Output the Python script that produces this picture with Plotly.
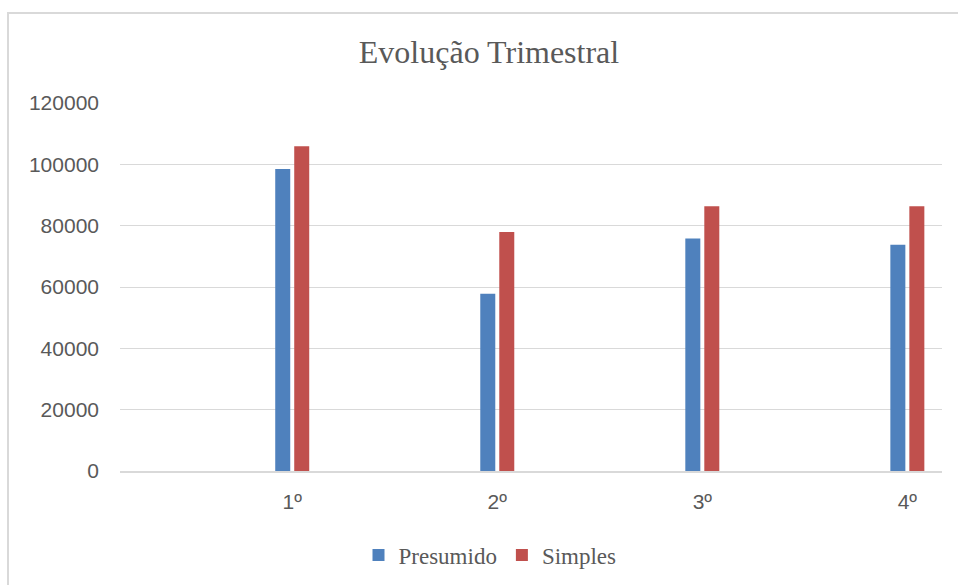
import plotly.graph_objects as go

categories = ["1º", "2º", "3º", "4º"]
presumido = [98500, 57800, 75800, 73800]
simples = [105900, 77900, 86300, 86300]
y_ticks = [0, 20000, 40000, 60000, 80000, 100000, 120000]

W, H = 958, 585
L, R, T, B = 120, 16, 103, 114
pw, ph = W - L - R, H - T - B

def px_to_paper_x(px):
    return (px - L) / pw

def px_to_paper_y(py):
    return (H - B - py) / ph

fig = go.Figure()
fig.add_trace(go.Bar(name="Presumido", x=categories, y=presumido,
                     marker=dict(color="#4F81BD", line=dict(width=0))))
fig.add_trace(go.Bar(name="Simples", x=categories, y=simples,
                     marker=dict(color="#C0504D", line=dict(width=0))))

fig.update_layout(
    width=W, height=H,
    margin=dict(l=L, r=R, t=T, b=B, pad=0),
    paper_bgcolor="white", plot_bgcolor="white",
    barmode="group", bargap=0.8147, bargroupgap=0.21,
    title=dict(text="Evolução Trimestral", x=489 / W, xref="container", xanchor="center",
               y=1 - 52 / H, yref="container", yanchor="middle",
               font=dict(family="Liberation Serif", size=32, color="#595959")),
    legend=dict(orientation="h", x=490 / W, xref="container", xanchor="center",
                y=1 - 555 / H, yref="container", yanchor="middle",
                font=dict(family="Liberation Serif", size=23, color="#595959"),
                bgcolor="rgba(0,0,0,0)"),
    showlegend=True,
    xaxis=dict(type="category", range=[-0.840, 3.169], showgrid=False, zeroline=False,
               showline=True, linecolor="#D9D9D9", linewidth=1.5, ticks="",
               ticklabelstandoff=11,
               tickfont=dict(family="Liberation Sans", size=21, color="#595959")),
    yaxis=dict(range=[0, 120000], tickvals=y_ticks, ticktext=[str(v) for v in y_ticks],
               showgrid=True, gridcolor="#D9D9D9", gridwidth=1.2, zeroline=False,
               showline=False, ticks="", ticklabelstandoff=20,
               tickfont=dict(family="Liberation Sans", size=21, color="#595959")),
    shapes=[dict(type="rect", xref="paper", yref="paper",
                 x0=px_to_paper_x(8), x1=px_to_paper_x(1000),
                 y0=px_to_paper_y(640), y1=px_to_paper_y(13),
                 line=dict(color="#D9D9D9", width=2), fillcolor="rgba(0,0,0,0)", layer="below")],
)

fig.write_html("out.html", config={"displayModeBar": False},
               post_script="document.body.style.margin='0';document.body.style.overflow='hidden';")
